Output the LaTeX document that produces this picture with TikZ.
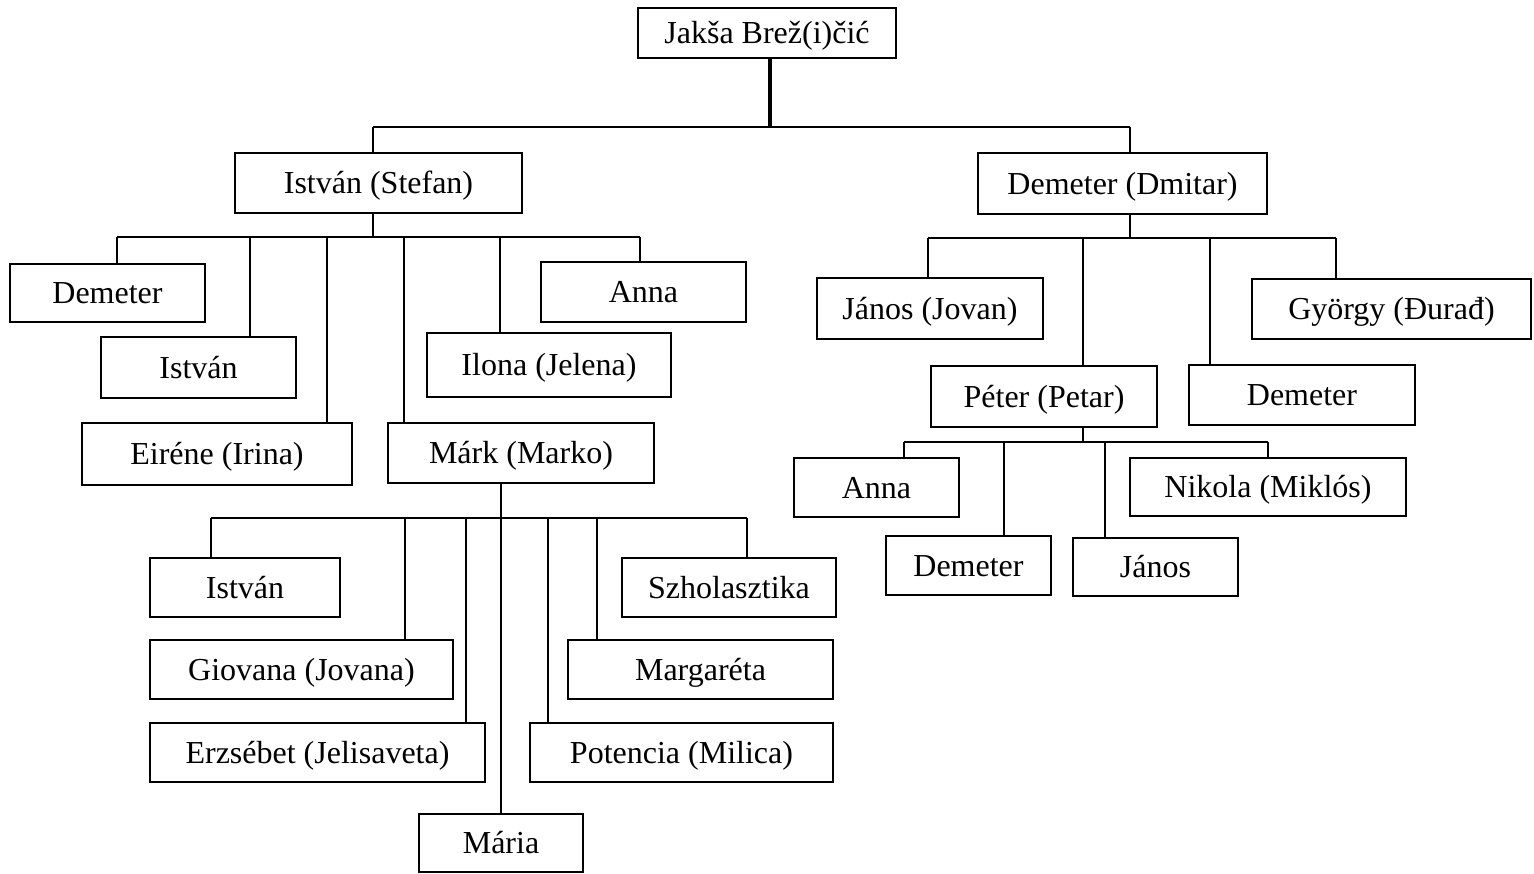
\documentclass[tikz,border=0pt]{standalone}
\usepackage{fontspec}
\setmainfont{Liberation Serif}
\begin{document}
\begin{tikzpicture}[x=1pt,y=1pt,
  box/.style={draw=black,line width=1.8pt,inner sep=0pt,align=center,
    text height=21.2pt,text depth=0pt,font=\fontsize{32}{38}\selectfont},
  conn/.style={draw=black,line width=2pt},
  trunk/.style={draw=black,line width=3.5pt}]
\useasboundingbox[fill=white] (0,0) rectangle (1534,-873);
% boxes
\node[box,minimum width=258,minimum height=50] (jaksa) at (767,-33) {Jakša Brež(i)čić};
\node[box,minimum width=287,minimum height=60] (istS) at (378.5,-183) {István (Stefan)};
\node[box,minimum width=289,minimum height=61] (demD) at (1122.5,-183.5) {Demeter (Dmitar)};
\node[box,minimum width=195,minimum height=58] (dem1) at (107.5,-293) {Demeter};
\node[box,minimum width=195,minimum height=61] (ist1) at (198.5,-367.5) {István};
\node[box,minimum width=270,minimum height=62] (eir) at (217,-454) {Eiréne (Irina)};
\node[box,minimum width=266,minimum height=60] (mark) at (521,-453) {Márk (Marko)};
\node[box,minimum width=244,minimum height=64] (ilona) at (549,-365) {Ilona (Jelena)};
\node[box,minimum width=205,minimum height=60] (anna1) at (643.5,-292) {Anna};
\node[box,minimum width=190,minimum height=59] (ist2) at (245,-587.5) {István};
\node[box,minimum width=303,minimum height=59] (gio) at (301.5,-669.5) {Giovana (Jovana)};
\node[box,minimum width=335,minimum height=59] (erz) at (317.5,-752.5) {Erzsébet (Jelisaveta)};
\node[box,minimum width=164,minimum height=58] (maria) at (501,-843) {Mária};
\node[box,minimum width=303,minimum height=59] (pot) at (681.5,-752.5) {Potencia (Milica)};
\node[box,minimum width=265,minimum height=59] (marg) at (700.5,-669.5) {Margaréta};
\node[box,minimum width=214,minimum height=59] (szh) at (729,-587.5) {Szholasztika};
\node[box,minimum width=226,minimum height=61] (janJ) at (930,-308.5) {János (Jovan)};
\node[box,minimum width=226,minimum height=61] (peter) at (1044,-396.5) {Péter (Petar)};
\node[box,minimum width=226,minimum height=60] (dem2) at (1302,-395) {Demeter};
\node[box,minimum width=279,minimum height=60] (gyo) at (1391.5,-309) {György (Đurađ)};
\node[box,minimum width=165,minimum height=59] (anna2) at (876.5,-487.5) {Anna};
\node[box,minimum width=165,minimum height=59] (dem3) at (968.5,-565.5) {Demeter};
\node[box,minimum width=165,minimum height=58] (jan2) at (1155.5,-567) {János};
\node[box,minimum width=276,minimum height=58] (nik) at (1268,-487) {Nikola (Miklós)};
% bus levels
\coordinate (bTop) at (0,-127);
\coordinate (bIS) at (0,-237);
\coordinate (bDD) at (0,-238);
\coordinate (bMK) at (0,-518);
\coordinate (bPT) at (0,-442);
% top level
\draw[trunk] ([xshift=3pt]jaksa.south) -- ([xshift=3pt]jaksa.south |- bTop);
\draw[conn,line width=2.5pt] ([xshift=-5.5pt]istS.north |- bTop) -- ([xshift=7.5pt]demD.north |- bTop);
\draw[conn] ([xshift=-5.5pt]istS.north) -- ([xshift=-5.5pt]istS.north |- bTop);
\draw[conn] ([xshift=7.5pt]demD.north) -- ([xshift=7.5pt]demD.north |- bTop);
% István (Stefan) children
\draw[conn] ([xshift=-5.5pt]istS.south) -- ([xshift=-5.5pt]istS.south |- bIS);
\draw[conn] ([xshift=9.5pt]dem1.north |- bIS) -- ([xshift=-3.5pt]anna1.north |- bIS);
\draw[conn] ([xshift=9.5pt]dem1.north) -- ([xshift=9.5pt]dem1.north |- bIS);
\draw[conn] ([xshift=51.5pt]ist1.north) -- ([xshift=51.5pt]ist1.north |- bIS);
\draw[conn] ([xshift=110pt]eir.north) -- ([xshift=110pt]eir.north |- bIS);
\draw[conn] ([xshift=-117pt]mark.north) -- ([xshift=-117pt]mark.north |- bIS);
\draw[conn] ([xshift=-49pt]ilona.north) -- ([xshift=-49pt]ilona.north |- bIS);
\draw[conn] ([xshift=-3.5pt]anna1.north) -- ([xshift=-3.5pt]anna1.north |- bIS);
% Márk children
\draw[conn] ([xshift=-20pt]mark.south) -- (maria.north);
\draw[conn] ([xshift=-34pt]ist2.north |- bMK) -- ([xshift=18pt]szh.north |- bMK);
\draw[conn] ([xshift=-34pt]ist2.north) -- ([xshift=-34pt]ist2.north |- bMK);
\draw[conn] ([xshift=103.5pt]gio.north) -- ([xshift=103.5pt]gio.north |- bMK);
\draw[conn] ([xshift=148.5pt]erz.north) -- ([xshift=148.5pt]erz.north |- bMK);
\draw[conn] ([xshift=-133.5pt]pot.north) -- ([xshift=-133.5pt]pot.north |- bMK);
\draw[conn] ([xshift=-103.5pt]marg.north) -- ([xshift=-103.5pt]marg.north |- bMK);
\draw[conn] ([xshift=18pt]szh.north) -- ([xshift=18pt]szh.north |- bMK);
% Demeter (Dmitar) children
\draw[conn] ([xshift=7.5pt]demD.south) -- ([xshift=7.5pt]demD.south |- bDD);
\draw[conn] ([xshift=-2pt]janJ.north |- bDD) -- ([xshift=-55.5pt]gyo.north |- bDD);
\draw[conn] ([xshift=-2pt]janJ.north) -- ([xshift=-2pt]janJ.north |- bDD);
\draw[conn] ([xshift=39pt]peter.north) -- ([xshift=39pt]peter.north |- bDD);
\draw[conn] ([xshift=-92pt]dem2.north) -- ([xshift=-92pt]dem2.north |- bDD);
\draw[conn] ([xshift=-55.5pt]gyo.north) -- ([xshift=-55.5pt]gyo.north |- bDD);
% Péter children
\draw[conn] ([xshift=39pt]peter.south) -- ([xshift=39pt]peter.south |- bPT);
\draw[conn] ([xshift=27.5pt]anna2.north |- bPT) -- (nik.north |- bPT);
\draw[conn] ([xshift=27.5pt]anna2.north) -- ([xshift=27.5pt]anna2.north |- bPT);
\draw[conn] ([xshift=35.5pt]dem3.north) -- ([xshift=35.5pt]dem3.north |- bPT);
\draw[conn] ([xshift=-50.5pt]jan2.north) -- ([xshift=-50.5pt]jan2.north |- bPT);
\draw[conn] (nik.north) -- (nik.north |- bPT);
\end{tikzpicture}
\end{document}
